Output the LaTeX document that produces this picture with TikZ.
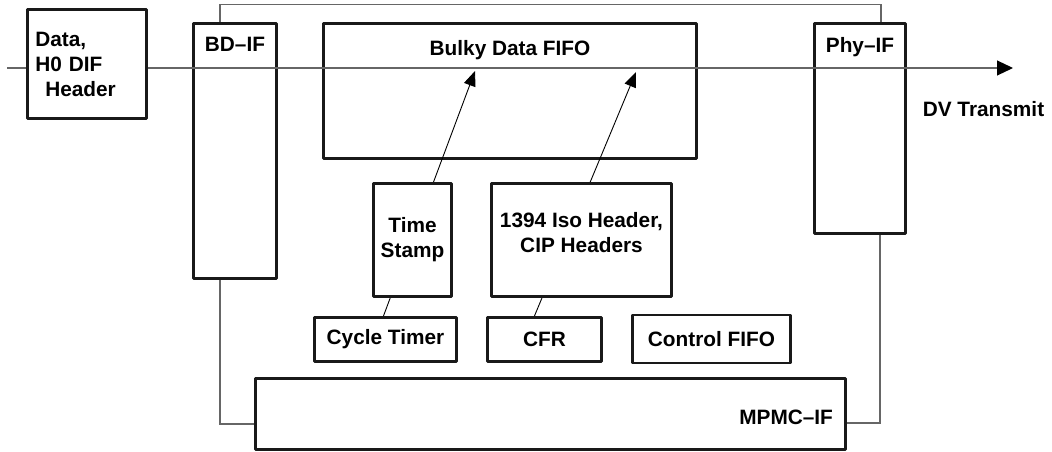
\documentclass[tikz,border=0pt]{standalone}
\usepackage{fontspec}
\setmainfont{Liberation Sans}
\usepackage{tikz}
\usetikzlibrary{arrows.meta, positioning, calc}

\begin{document}
\begin{tikzpicture}[x=1pt, y=-1pt,
            font=\fontsize{20.8}{25}\selectfont\bfseries,
            block/.style={rectangle, draw=black!90, line width=2.8pt, line join=round, inner sep=0pt, align=center},
            tag/.style={inner sep=0pt, align=center},
            wire/.style={draw=black!60, line width=1.1pt},
            feed/.style={draw=black, line width=0.9pt, -{Triangle[length=15pt,width=12pt]}}
        ]
            \useasboundingbox (0,0) rectangle (1052,452);

% Input and output ends
            \coordinate (sigin) at (7,68);
            \coordinate (sigout) at (1013,68);

% Blocks
            \node[block, minimum width=119.4pt, minimum height=109.4pt, text width=103.4pt, inner xsep=8pt, align=left] (data) at (87,64) {Data,\\H0 DIF\\\hspace*{10pt}Header};
            \node[block, minimum width=83.4pt, minimum height=255.4pt, label={[tag, anchor=north, yshift=-15pt]north:BD–IF}] (bdif) at (235,151) {};
            \node[block, minimum width=372.4pt, minimum height=135.4pt, label={[tag, anchor=north, yshift=-18pt]north:Bulky Data FIFO}] (bulky) at (510,91) {};
            \node[block, minimum width=91.4pt, minimum height=210.4pt, label={[tag, anchor=north, yshift=-15pt]north:Phy–IF}] (phyif) at (860,128.5) {};
            \node[block, minimum width=142.4pt, minimum height=44.4pt] (cycle) at (385.5,339.5) {Cycle Timer};
            \node[block, minimum width=114.4pt, minimum height=44.4pt] (cfr) at (544.5,339.5) {CFR};
            \node[block, minimum width=158.4pt, minimum height=48pt] (ctrl) at (711.5,339) {Control FIFO};
            \node[block, minimum width=590.4pt, minimum height=71.4pt, label={[tag, anchor=east, xshift=-14pt, yshift=-3.5pt]east:MPMC–IF}] (mpmc) at (550.5,414) {};
            \node (dvtx) at (983.5,109) {DV Transmit};

% Feeds into the FIFO
            \coordinate (tsin) at (475,71);
            \coordinate (isoin) at (636,72);
            \draw[feed] ([xshift=-2pt]cycle.north) -- (tsin);
            \draw[feed] ([xshift=-10pt]cfr.north) -- (isoin);

            \node[block, fill=white, minimum width=78.4pt, minimum height=113.4pt] (stamp) at (412.5,240) {Time\\Stamp};
            \node[block, fill=white, minimum width=180.4pt, minimum height=113.4pt, label={[tag, anchor=north, yshift=-30pt]north:1394 Iso Header,\\CIP Headers}] (iso) at (581.5,240) {};

% Wires
            \draw[wire] (sigin) -- (sigin -| data.west);
            \draw[wire, -{Triangle[length=16pt,width=15pt,color=black]}] (sigin -| data.east) -- (sigout);
            \draw[wire] ([xshift=-15pt]bdif.north) -- ++(0,-17) -| ([xshift=21pt]phyif.north);
            \draw[wire] ([xshift=-15pt]bdif.south) |- ([yshift=-10pt]mpmc.west);
            \draw[wire] ([xshift=20pt]phyif.south) |- ([yshift=-9pt]mpmc.east);

        \end{tikzpicture}
\end{document}
